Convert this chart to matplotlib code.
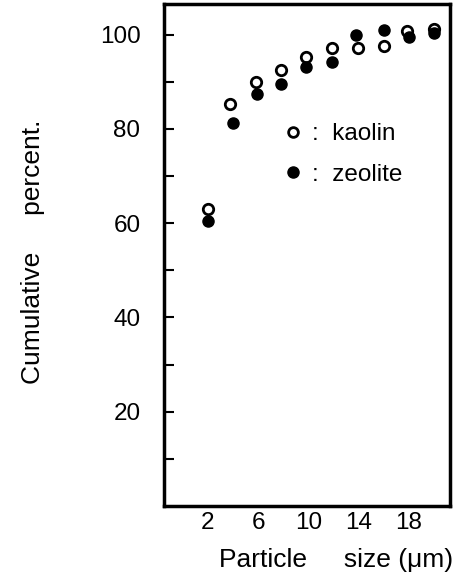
import matplotlib
matplotlib.use("Agg")
import matplotlib.pyplot as plt
from matplotlib.lines import Line2D

# Data
kaolin_x = [2, 3.8, 5.8, 7.8, 9.8, 11.9, 14.0, 16.0, 17.9, 20.0]
kaolin_y = [63.0, 85.2, 90.0, 92.4, 95.3, 97.2, 97.1, 97.5, 100.7, 101.1]
zeolite_x = [2, 4.0, 5.9, 7.8, 9.8, 11.9, 13.8, 16.0, 18.0, 20.0]
zeolite_y = [60.4, 81.3, 87.5, 89.6, 93.1, 94.3, 99.9, 101.0, 99.5, 100.3]
x_ticks = [2, 6, 10, 14, 18]
y_major = [20, 40, 60, 80, 100]
y_minor = [10, 30, 50, 70, 90]

plt.rcParams['font.family'] = ['Liberation Sans', 'DejaVu Sans']

FS = 17.5
FL = 19

fig = plt.figure(figsize=(4.59, 5.78), dpi=100)
ax = fig.add_axes([164/459, (578-506)/578, (450-164)/459, (506-4)/578])

ax.plot(kaolin_x, kaolin_y, linestyle='none', marker='o', markersize=7.5,
        markerfacecolor='white', markeredgecolor='black', markeredgewidth=2.0)
ax.plot(zeolite_x, zeolite_y, linestyle='none', marker='o', markersize=8,
        markerfacecolor='black', markeredgecolor='black')

ax.set_xlim(-1.5, 21.3)
ax.set_ylim(0, 106.5)

ax.set_xticks(x_ticks)
ax.set_xticklabels([str(t) for t in x_ticks])
ax.set_yticks(y_major)
ax.set_yticklabels([str(t) for t in y_major])
ax.set_yticks(y_minor, minor=True)

ax.tick_params(axis='x', length=0, labelsize=FS, pad=4)
ax.tick_params(axis='y', which='both', direction='in', length=7, width=1.5,
               labelsize=FS, pad=17)

for s in ax.spines.values():
    s.set_linewidth(2.5)

ax.set_xlabel('Particle     size (\u03bcm)', fontsize=FL)
ax.xaxis.label.set(ha='center', va='center')
ax.xaxis.set_label_coords(0.6, -(560 - 506) / 502)

ax.set_ylabel('Cumulative     percent.', fontsize=FL)
ax.yaxis.label.set(ha='center', va='center', rotation_mode='default')
ax.yaxis.set_label_coords((33 - 164) / 286, (506 - 252) / 502)

handles = [
    Line2D([], [], linestyle='none', marker='o', markersize=7,
           markerfacecolor='white', markeredgecolor='black', markeredgewidth=2.0),
    Line2D([], [], linestyle='none', marker='o', markersize=8,
           markerfacecolor='black', markeredgecolor='black'),
]
ax.legend(handles, [':  kaolin', ':  zeolite'], loc='center left',
          bbox_to_anchor=(0.34, 0.70), frameon=False, fontsize=FS,
          handlelength=0.8, handletextpad=0.4, labelspacing=0.75)

fig.savefig('out.png', dpi=100)
